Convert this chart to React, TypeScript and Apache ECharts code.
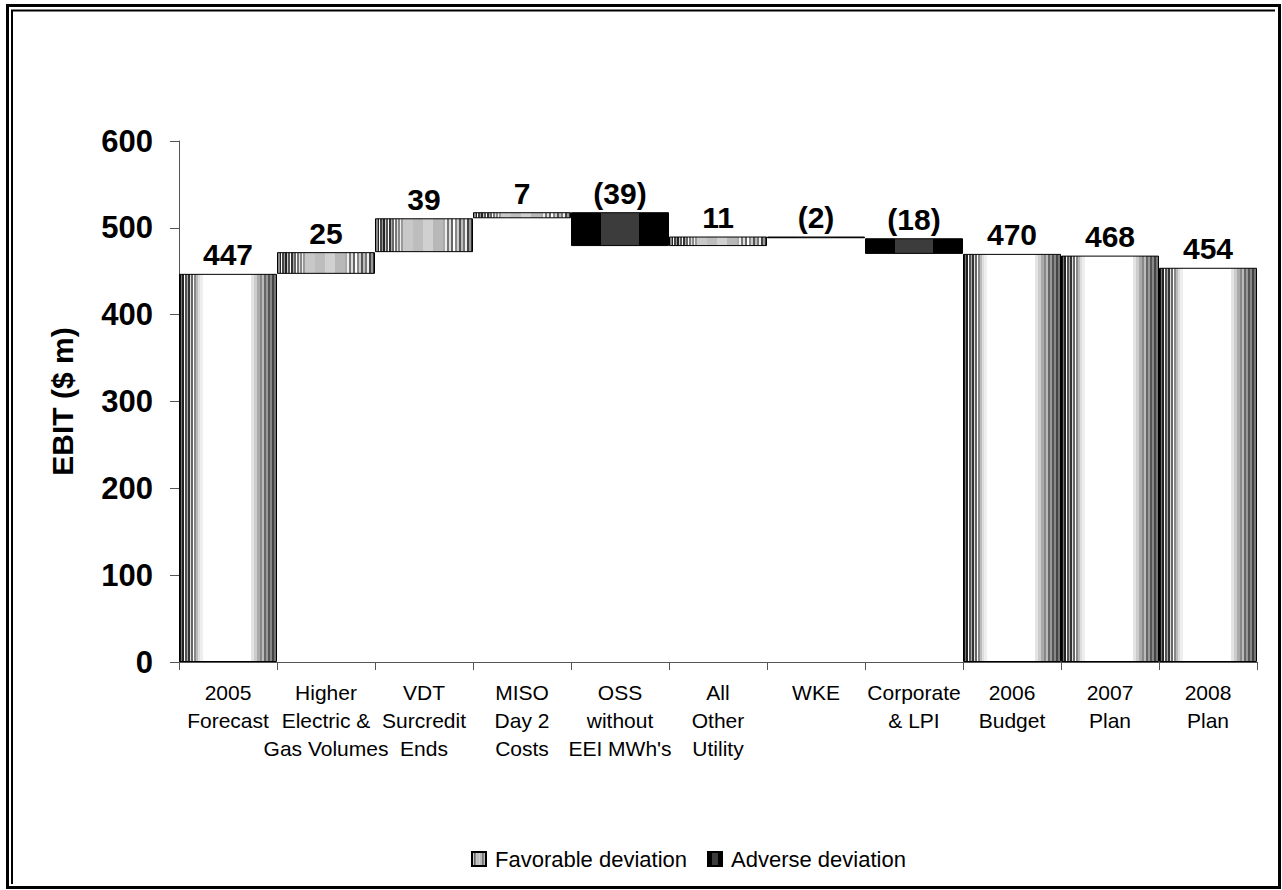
import React, { useEffect, useRef } from "react";
import * as echarts from "echarts";

const categories = [
  "2005\nForecast",
  "Higher\nElectric &\nGas Volumes",
  "VDT\nSurcredit\nEnds",
  "MISO\nDay 2\nCosts",
  "OSS\nwithout\nEEI MWh's",
  "All\nOther\nUtility",
  "WKE",
  "Corporate\n& LPI",
  "2006\nBudget",
  "2007\nPlan",
  "2008\nPlan",
];
// totals (null where the bar is a deviation)
const totalValues: (number | null)[] = [447, null, null, null, null, null, null, null, 470, 468, 454];
// deviations (null where the bar is a total)
const deltaValues: (number | null)[] = [null, 25, 39, 7, -39, 11, -2, -18, null, null, null];
const yTicks = { min: 0, max: 600, interval: 100 };
const legendNames = ["Favorable deviation", "Adverse deviation"];

const FONT = "'Liberation Sans', Arial, Helvetica, sans-serif";

function stripes(segs: [number, string][]) {
  const total = segs.reduce((s, x) => s + x[0], 0);
  const stops: { offset: number; color: string }[] = [];
  let pos = 0;
  for (const [w, c] of segs) {
    stops.push({ offset: pos / total, color: c });
    pos += w;
    stops.push({ offset: pos / total, color: c });
  }
  return new echarts.graphic.LinearGradient(0, 0, 1, 0, stops);
}

const totalFill = () =>
  stripes([
    [2, "#111"], [1, "#777"], [2, "#222"], [1, "#fff"], [2, "#555"], [1, "#aaa"],
    [2, "#333"], [1, "#ddd"], [2, "#666"], [1, "#fff"], [2, "#888"], [2, "#bbb"],
    [2, "#ddd"], [3, "#eee"],
    [48, "#ffffff"],
    [3, "#e4e4e4"], [3, "#ccc"], [3, "#aaa"], [2, "#888"], [2, "#bbb"], [2, "#666"],
    [2, "#999"], [2, "#555"], [2, "#888"], [2, "#444"], [3, "#777"],
  ]);

const favFill = () =>
  stripes([
    [1, "#000"], [2, "#888"], [1, "#222"], [1, "#fff"], [2, "#444"], [1, "#999"],
    [2, "#222"], [1, "#ccc"], [2, "#555"], [1, "#fff"], [2, "#333"], [1, "#aaa"],
    [2, "#666"], [1, "#fff"], [2, "#777"], [1, "#ddd"], [2, "#888"], [1, "#eee"],
    [2, "#999"],
    [10, "#c8c8c8"], [10, "#bdbdbd"], [10, "#d0d0d0"], [10, "#b8b8b8"],
    [2, "#aaa"], [2, "#eee"], [2, "#777"], [2, "#ddd"], [2, "#666"], [2, "#fff"],
    [2, "#888"], [2, "#ccc"], [2, "#555"], [2, "#bbb"], [2, "#777"], [2, "#eee"],
    [2, "#444"], [2, "#999"], [2, "#333"],
  ]);

const advFill = () => stripes([[30, "#000"], [38, "#3c3c3c"], [30, "#000"]]);

export default function App() {
  const ref = useRef<HTMLDivElement>(null);
  useEffect(() => {
    if (!ref.current) return;
    const chart = echarts.init(ref.current, undefined, { renderer: "svg" });

    const base: (number | string)[] = [];
    const fav: (number | string)[] = [];
    const adv: (number | string)[] = [];
    const tot: (number | string)[] = [];
    let running = 0;
    categories.forEach((_, i) => {
      const t = totalValues[i];
      const d = deltaValues[i];
      if (t != null) {
        running = t;
        base.push(0);
        tot.push(t);
        fav.push("-");
        adv.push("-");
      } else if (d != null) {
        tot.push("-");
        if (d >= 0) {
          base.push(running);
          fav.push(d);
          adv.push("-");
          running += d;
        } else {
          running += d;
          base.push(running);
          adv.push(-d);
          fav.push("-");
        }
      }
    });

    const labelStyle = {
      show: true,
      position: "top" as const,
      distance: 4,
      fontFamily: FONT,
      fontWeight: "bold" as const,
      fontSize: 30,
      color: "#000",
    };

    chart.setOption({
      animation: false,
      backgroundColor: "#fff",
      textStyle: { fontFamily: FONT },
      grid: { left: 179, right: 25, top: 141, bottom: 228, containLabel: false },
      legend: {
        data: legendNames,
        left: 466,
        top: 843,
        itemWidth: 14,
        itemHeight: 14,
        itemGap: 20,
        icon: "rect",
        textStyle: { fontFamily: FONT, fontSize: 22, color: "#000", padding: [0, 0, 0, 4] },
        selectedMode: false,
      },
      xAxis: {
        type: "category",
        data: categories,
        axisLine: { lineStyle: { color: "#555", width: 1 } },
        axisTick: { show: true, length: 8, lineStyle: { color: "#555" } },
        axisLabel: {
          interval: 0,
          margin: 16,
          fontFamily: FONT,
          fontSize: 21,
          lineHeight: 28,
          color: "#000",
          align: "center",
        },
      },
      yAxis: {
        type: "value",
        min: yTicks.min,
        max: yTicks.max,
        interval: yTicks.interval,
        name: "EBIT ($ m)",
        nameLocation: "middle",
        nameGap: 102,
        nameRotate: 90,
        nameTextStyle: { fontFamily: FONT, fontWeight: "bold", fontSize: 30, color: "#000" },
        axisLine: { show: true, lineStyle: { color: "#555", width: 1 } },
        axisTick: { show: true, length: 9, lineStyle: { color: "#555" } },
        splitLine: { show: false },
        axisLabel: {
          margin: 26,
          fontFamily: FONT,
          fontWeight: "bold",
          fontSize: 31,
          color: "#000",
        },
      },
      series: [
        {
          name: "base",
          type: "bar",
          stack: "w",
          data: base,
          barCategoryGap: "0%",
          itemStyle: { color: "rgba(0,0,0,0)", borderWidth: 0 },
          emphasis: { disabled: true },
          silent: true,
        },
        {
          name: "Total",
          type: "bar",
          stack: "w",
          data: tot,
          barCategoryGap: "0%",
          itemStyle: { color: totalFill(), borderColor: "#000", borderWidth: 1 },
          label: { ...labelStyle, formatter: (p: any) => String(p.value) },
        },
        {
          name: legendNames[0],
          type: "bar",
          stack: "w",
          data: fav,
          barCategoryGap: "0%",
          itemStyle: { color: favFill(), borderColor: "#000", borderWidth: 1 },
          label: { ...labelStyle, formatter: (p: any) => String(p.value) },
        },
        {
          name: legendNames[1],
          type: "bar",
          stack: "w",
          data: adv,
          barCategoryGap: "0%",
          itemStyle: { color: advFill(), borderColor: "#000", borderWidth: 1 },
          label: { ...labelStyle, formatter: (p: any) => "(" + p.value + ")" },
        },
      ],
      graphic: [
        {
          type: "rect",
          silent: true,
          shape: { x: 7.5, y: 5.5, width: 1272, height: 882 },
          style: { fill: "none", stroke: "#000", lineWidth: 3 },
        },
        {
          type: "polyline",
          silent: true,
          shape: { points: [[12, 884], [12, 10.5], [1275, 10.5]] },
          style: { fill: "none", stroke: "#000", lineWidth: 2 },
        },
      ],
    });
    return () => chart.dispose();
  }, []);
  return (
    <div
      ref={ref}
      style={{ position: "absolute", left: 0, top: 0, width: 1282, height: 890 }}
    />
  );
}
